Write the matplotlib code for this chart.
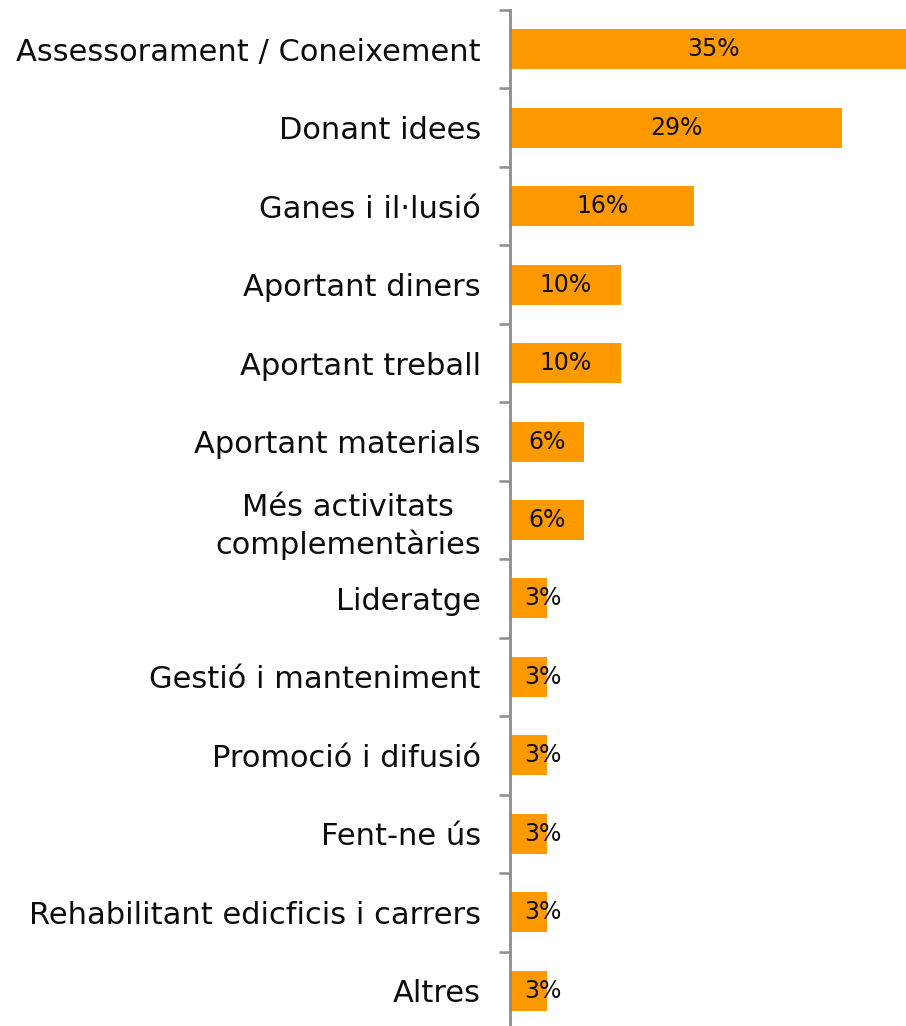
import matplotlib
matplotlib.use("Agg")
import matplotlib.pyplot as plt
import numpy as np

categories = [
    "Assessorament / Coneixement",
    "Donant idees",
    "Ganes i il·lusió",
    "Aportant diners",
    "Aportant treball",
    "Aportant materials",
    "Més activitats\ncomplementàries",
    "Lideratge",
    "Gestió i manteniment",
    "Promoció i difusió",
    "Fent-ne ús",
    "Rehabilitant edicficis i carrers",
    "Altres",
]
values = [35.5, 29.0, 16.1, 9.7, 9.7, 6.5, 6.5, 3.2, 3.2, 3.2, 3.2, 3.2, 3.2]
value_labels = ["35%", "29%", "16%", "10%", "10%", "6%", "6%", "3%", "3%", "3%", "3%", "3%", "3%"]

W, H = 906, 1026
fig = plt.figure(figsize=(W / 100, H / 100), dpi=100)
ax = fig.add_axes([510 / W, -4 / H, 396 / W, 1020 / H])

y = np.arange(len(categories))
ax.barh(y, values, height=0.51, color="#FF9900", zorder=2)

ax.set_xlim(0, 34.6)
ax.set_ylim(len(categories) - 0.5, -0.5)

for yi, v, lab in zip(y, values, value_labels):
    ax.text(max(v / 2, 2.9), yi, lab, ha="center", va="center",
            fontsize=17, color="#0d0d0d", zorder=3, clip_on=False)

for s in ["top", "right", "bottom"]:
    ax.spines[s].set_visible(False)
ax.spines["left"].set_color("#8C8C8C")
ax.spines["left"].set_linewidth(2)

ax.set_xticks([])
ax.set_yticks(y)
ax.set_yticklabels(categories, fontsize=22, color="#0d0d0d", multialignment="center")
ax.tick_params(axis="y", which="major", length=0, pad=21)
ax.set_yticks(np.arange(-0.5, len(categories) + 0.5, 1.0), minor=True)
ax.tick_params(axis="y", which="minor", length=8, width=1.8, color="#8C8C8C")
for t in ax.get_yticklabels():
    t.set_linespacing(1.3)

fig.savefig("out.png", dpi=100)
